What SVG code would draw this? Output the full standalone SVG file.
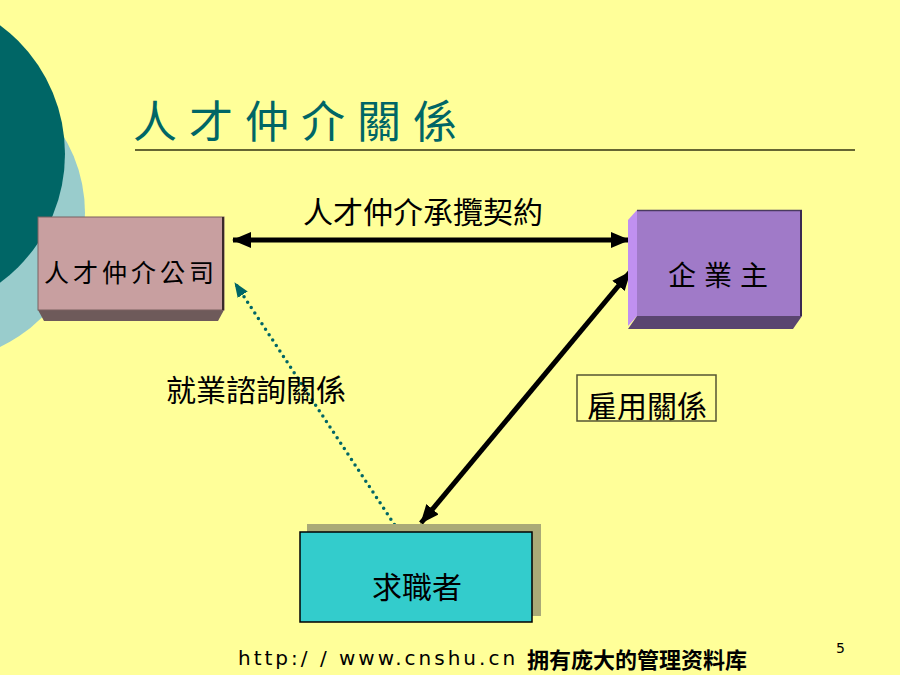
<svg xmlns="http://www.w3.org/2000/svg" width="900" height="675" viewBox="0 0 900 675">
<defs>
<style>
.cjk{font-family:"Noto Sans CJK TC","Noto Sans CJK SC",sans-serif;fill:#000}
.title{font-family:"Noto Sans CJK TC",sans-serif;fill:#006666;font-size:44px;letter-spacing:12px}
.foot{font-family:"DejaVu Sans","Liberation Sans",sans-serif;fill:#000}
.conn{stroke:#000;stroke-width:5;fill:none}
</style>
<marker id="ah" markerUnits="userSpaceOnUse" markerWidth="20" markerHeight="18" refX="18" refY="8" orient="auto-start-reverse" viewBox="0 0 20 18">
<path d="M0,0 L19,8 L0,16 z" fill="#000"/>
</marker>
<marker id="ahT" markerUnits="userSpaceOnUse" markerWidth="16" markerHeight="14" refX="14" refY="6" orient="auto" viewBox="0 0 16 14">
<path d="M0,0 L15,6 L0,12 z" fill="#006666"/>
</marker>
</defs>
<rect width="900" height="675" fill="#FFFF99"/>
<g id="decor">
<circle cx="-63" cy="213" r="148" fill="#99CCCC"/>
<circle cx="-95" cy="154" r="160" fill="#006666"/>
</g>
<g id="title">
<text class="title" x="133" y="138">人才仲介關係</text>
<line x1="135" y1="150" x2="855" y2="150" stroke="#666633" stroke-width="2"/>
</g>
<g id="connectors">
<line class="conn" x1="233" y1="240" x2="629" y2="240" marker-start="url(#ah)" marker-end="url(#ah)"/>
<line class="conn" x1="421" y1="523" x2="630" y2="272" marker-start="url(#ah)" marker-end="url(#ah)"/>
<line x1="398" y1="530" x2="235" y2="283" stroke="#006666" stroke-width="3.5" stroke-linecap="round" stroke-dasharray="0 6.5" marker-end="url(#ahT)"/>
</g>
<g id="node-agency">
<polygon points="38,310 224,310 218,321 44,321" fill="#6E5A5A"/>
<rect x="38" y="217" width="186" height="93" fill="#C89FA0" stroke="#7A6060" stroke-width="1"/>
<line x1="223" y1="217" x2="223" y2="310" stroke="#3A2A2A" stroke-width="2"/>
<text class="cjk" x="131" y="282" font-size="25" text-anchor="middle" letter-spacing="4">人才仲介公司</text>
</g>
<g id="node-employer">
<polygon points="628,220 637,210 637,316 628,326" fill="#C090F0"/>
<polygon points="637,316 802,316 793,329 628,329" fill="#5A4570"/>
<rect x="637" y="210" width="165" height="106" fill="#A07AC8"/>
<line x1="637" y1="210.5" x2="802" y2="210.5" stroke="#4A3A60" stroke-width="1.5"/>
<line x1="801" y1="210" x2="801" y2="316" stroke="#3A2A50" stroke-width="2"/>
<text class="cjk" x="722" y="286" font-size="28" text-anchor="middle" letter-spacing="8">企業主</text>
</g>
<g id="node-seeker">
<rect x="307" y="524" width="234" height="92" fill="#AAAA77"/>
<rect x="300" y="532" width="232" height="90" fill="#33CCCC" stroke="#000" stroke-width="1.5"/>
<text class="cjk" x="417" y="598" font-size="30" text-anchor="middle">求職者</text>
</g>
<g id="labels">
<text class="cjk" x="423" y="223" font-size="30" text-anchor="middle">人才仲介承攬契約</text>
<text class="cjk" x="256" y="401" font-size="30" text-anchor="middle">就業諮詢關係</text>
<rect x="577" y="375" width="139" height="46" fill="none" stroke="#555533" stroke-width="1.5"/>
<text class="cjk" x="647" y="417" font-size="30" text-anchor="middle">雇用關係</text>
</g>
<g id="footer">
<text class="foot" x="238" y="665" font-size="20" letter-spacing="3">http:/ / www.cnshu.cn</text>
<text class="cjk" x="527" y="668" font-size="22" font-weight="bold">拥有庞大的管理资料库</text>
<text class="foot" x="836" y="653" font-size="14">5</text>
</g>
</svg>
